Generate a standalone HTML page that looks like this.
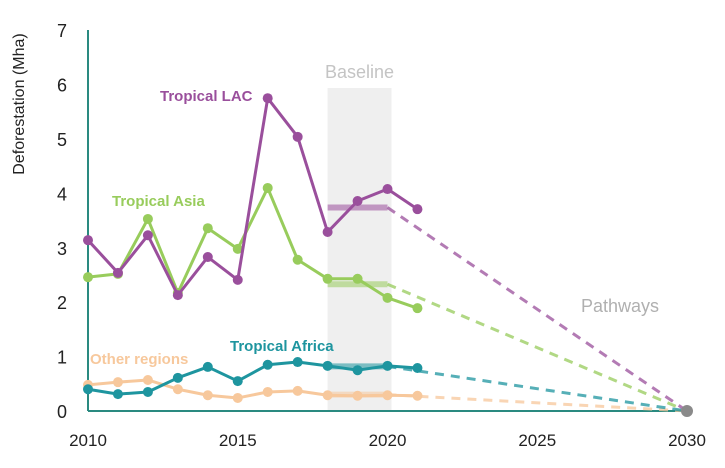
<!DOCTYPE html>
<html><head><meta charset="utf-8"><style>
body{margin:0;background:#fff;}
svg{display:block;font-family:"Liberation Sans",sans-serif;}
</style></head><body>
<svg id="chart" width="725" height="468">
<g id="g"></g>
</svg>
<script>
const years=[2010,2011,2012,2013,2014,2015,2016,2017,2018,2019,2020,2021];
const lac=[3.14,2.54,3.23,2.13,2.83,2.41,5.75,5.04,3.29,3.86,4.08,3.71];
const asia=[2.46,2.52,3.53,2.17,3.36,2.98,4.1,2.78,2.43,2.43,2.08,1.89];
const africa=[0.40,0.31,0.35,0.61,0.81,0.55,0.85,0.90,0.83,0.75,0.83,0.79];
const other=[0.48,0.53,0.57,0.40,0.29,0.24,0.35,0.37,0.29,0.28,0.29,0.28];
const baselines=[3.74,2.33,0.82,0.30];
const xTicks=[2010,2015,2020,2025,2030];
const yTicks=[0,1,2,3,4,5,6,7];
const X=y=>88+(y-2010)*29.95;
const Y=v=>411-v*54.4;
const NS="http://www.w3.org/2000/svg";
const g=document.getElementById('g');
function el(t,a,txt){const e=document.createElementNS(NS,t);for(const k in a)e.setAttribute(k,a[k]);if(txt!=null)e.textContent=txt;g.appendChild(e);return e;}
let r=el('rect',{x:X(2018),y:88,width:X(2020)-X(2018)+4,height:Y(0)-88,fill:'#efefef'});


let t=el('text',{x:(X(2018)+X(2020))/2+2,y:78,'text-anchor':'middle','font-size':18,fill:'#c4c4c4'},'Baseline');


t=el('text',{x:620,y:312,'text-anchor':'middle','font-size':18,fill:'#b0b0b0'},'Pathways');


let ax=el('line',{x1:88,y1:30,x2:88,y2:Y(0),stroke:'#2a8a80','stroke-width':2});


ax=el('line',{x1:88,y1:Y(0),x2:X(2030),y2:Y(0),stroke:'#2a8a80','stroke-width':2});


yTicks.forEach(v=>{const e=el('text',{x:62,y:Y(v)+7,'text-anchor':'middle','font-size':18,fill:'#222'},v);

});
xTicks.forEach(v=>{const e=el('text',{x:X(v),y:446,'text-anchor':'middle','font-size':17,fill:'#222'},v);

});
t=el('text',{x:0,y:0,transform:'translate(24,104) rotate(-90)','text-anchor':'middle','font-size':16,fill:'#222'},'Deforestation (Mha)');


const series=[
 {d:other,c:'#f7c89c',name:'other-regions',label:'Other regions',lx:90,ly:364},
 {d:africa,c:'#1e959f',name:'tropical-africa',label:'Tropical Africa',lx:230,ly:351},
 {d:asia,c:'#98cc5c',name:'tropical-asia',label:'Tropical Asia',lx:112,ly:206},
 {d:lac,c:'#9a4f9c',name:'tropical-lac',label:'Tropical LAC',lx:160,ly:101}
];
const order=[3,2,1,0];
series.forEach((s,i)=>{
 const b=baselines[order[i]];
 let l=el('line',{x1:X(2018),y1:Y(b),x2:X(2020),y2:Y(b),stroke:s.c,'stroke-width':6,opacity:0.55});
 
 
 l=el('line',{x1:X(2020),y1:Y(b),x2:X(2030),y2:Y(0),stroke:s.c,'stroke-width':3,'stroke-dasharray':'9 7',opacity:0.75});
 
 
});
series.forEach(s=>{
 const p=el('polyline',{points:s.d.map((v,i)=>X(years[i])+','+Y(v)).join(' '),fill:'none',stroke:s.c,'stroke-width':3,'stroke-linejoin':'round'});
 
 
 s.d.forEach((v,i)=>{const c=el('circle',{cx:X(years[i]),cy:Y(v),r:5,fill:s.c});
 
 });
 const tx=el('text',{x:s.lx,y:s.ly,'font-size':15,'font-weight':'bold',fill:s.c},s.label);
 
 
});
const d=el('circle',{cx:X(2030),cy:Y(0),r:6,fill:'#8a8a8a'});


</script>
</body></html>
